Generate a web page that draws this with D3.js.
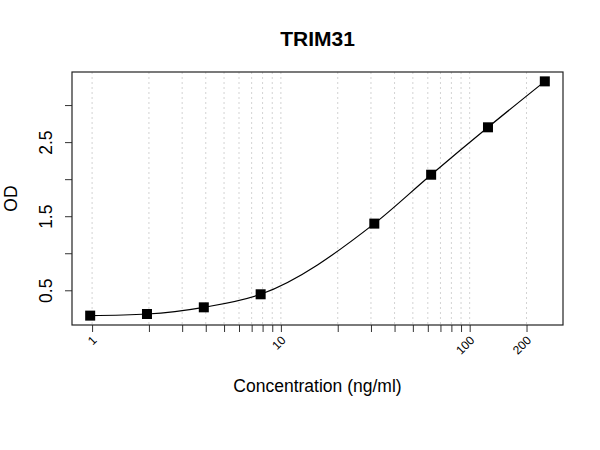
<!DOCTYPE html>
<html>
<head>
<meta charset="utf-8">
<script src="https://cdn.jsdelivr.net/npm/d3@7"></script>
<style>
  body { margin: 0; background: #fff; }
  text { font-family: "Liberation Sans", Arial, sans-serif; }
</style>
</head>
<body>
<div id="chart"></div>
<script>
// data
const concentration = [0.977, 1.953, 3.906, 7.8125, 31.25, 62.5, 125, 250];
const od = [0.158, 0.18, 0.27, 0.446, 1.40, 2.06, 2.70, 3.32];
const xGrid = [1, 2, 3, 4, 5, 6, 7, 8, 9, 10, 20, 30, 40, 50, 60, 70, 80, 90, 100, 200];
const xLabels = [1, 10, 100, 200];
const yTicks = [0.5, 1, 1.5, 2, 2.5, 3];
const yLabels = [0.5, 1.5, 2.5];

const points = concentration.map((c, i) => ({ x: c, y: od[i] }));

const width = 600, height = 450;
const margin = { top: 72, right: 37, bottom: 125, left: 72 };
const w = width - margin.left - margin.right,
      h = height - margin.top - margin.bottom;

const svg = d3.select("#chart")
  .append("svg")
    .attr("width", width)
    .attr("height", height);

const g = svg.append("g")
  .attr("transform", `translate(${margin.left},${margin.top})`);

// R style 4% padding of the data range
const lx = d3.extent(concentration, d => Math.log10(d));
const px = (lx[1] - lx[0]) * 0.04;
const x = d3.scaleLog()
  .domain([Math.pow(10, lx[0] - px), Math.pow(10, lx[1] + px)])
  .range([0, w]);

const ey = d3.extent(od);
const py = (ey[1] - ey[0]) * 0.04;
const y = d3.scaleLinear()
  .domain([ey[0] - py, ey[1] + py])
  .range([h, 0]);

// vertical dotted grid
g.selectAll(".grid")
  .data(xGrid)
  .enter()
  .append("line")
    .attr("x1", d => x(d))
    .attr("x2", d => x(d))
    .attr("y1", 0)
    .attr("y2", h)
    .attr("stroke", "#d3d3d3")
    .attr("stroke-width", 1)
    .attr("stroke-dasharray", "2,3");

// x axis: ticks everywhere, labels only on a few
const xAxis = g.append("g")
  .attr("transform", `translate(0,${h})`)
  .call(d3.axisBottom(x).tickValues(xGrid).tickSize(7)
    .tickFormat(d => xLabels.includes(d) ? d : ""));
xAxis.select(".domain").remove();
xAxis.selectAll("line").attr("stroke", "#333");
xAxis.selectAll("text")
  .attr("font-size", 12)
  .attr("fill", "#000")
  .attr("text-anchor", "end")
  .attr("x", 0)
  .attr("y", 0)
  .attr("dy", 0)
  .attr("transform", "translate(5,16) rotate(-45)");

// y axis
const yAxis = g.append("g")
  .call(d3.axisLeft(y).tickValues(yTicks).tickSize(7)
    .tickFormat(d => yLabels.includes(d) ? d3.format(".1f")(d) : ""));
yAxis.select(".domain").remove();
yAxis.selectAll("line").attr("stroke", "#333");
yAxis.selectAll("text")
  .attr("font-size", 17.5)
  .attr("fill", "#000")
  .attr("text-anchor", "middle")
  .attr("x", 0)
  .attr("dy", 0)
  .attr("transform", "translate(-20,0) rotate(-90)");

// box
g.append("rect")
  .attr("width", w)
  .attr("height", h)
  .attr("fill", "none")
  .attr("stroke", "#222")
  .attr("stroke-width", 1.2);

// curve
const line = d3.line()
  .x(d => x(d.x))
  .y(d => y(d.y))
  .curve(d3.curveMonotoneX);

g.append("path")
  .datum(points)
  .attr("d", line)
  .attr("fill", "none")
  .attr("stroke", "#000")
  .attr("stroke-width", 1.2);

// points
g.selectAll(".pt")
  .data(points)
  .enter()
  .append("rect")
    .attr("x", d => x(d.x) - 5)
    .attr("y", d => y(d.y) - 5)
    .attr("width", 10)
    .attr("height", 10)
    .attr("fill", "#000");

// titles
svg.append("text")
  .attr("x", margin.left + w / 2)
  .attr("y", 46)
  .attr("text-anchor", "middle")
  .attr("font-size", 21)
  .attr("font-weight", "bold")
  .text("TRIM31");

svg.append("text")
  .attr("x", margin.left + w / 2)
  .attr("y", 392)
  .attr("text-anchor", "middle")
  .attr("font-size", 17.5)
  .text("Concentration (ng/ml)");

svg.append("text")
  .attr("transform", `translate(17,${margin.top + h / 2}) rotate(-90)`)
  .attr("text-anchor", "middle")
  .attr("font-size", 17.5)
  .text("OD");
</script>
</body>
</html>
